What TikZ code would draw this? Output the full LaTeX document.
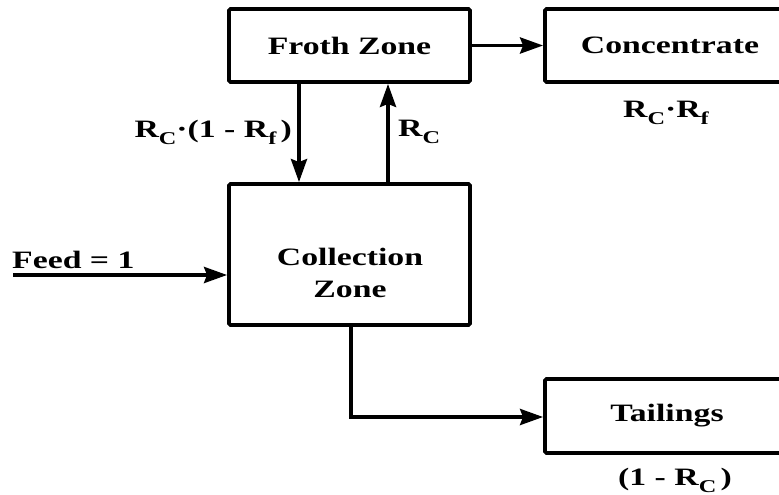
\documentclass[tikz,border=0pt]{standalone}
\usepackage{fontspec}
\setmainfont{Liberation Serif}[FakeStretch=1.35]
\usetikzlibrary{arrows.meta}
\newcommand{\lowsub}[1]{\raisebox{-7pt}{\fontsize{18}{20}\selectfont #1}}
\begin{document}
\begin{tikzpicture}[x=1pt,y=-1pt,
  box/.style={draw, line width=3.8pt, rounded corners=1.5pt, inner sep=0pt, font=\fontsize{25}{32}\selectfont\bfseries, align=center},
  txt/.style={font=\fontsize{25}{32}\selectfont\bfseries, inner sep=0pt},
  flow/.style={line width=3.8pt, -{Stealth[length=23pt,width=16pt,inset=3pt]}}]
\useasboundingbox (0,0) rectangle (779,495);
\clip (0,0) rectangle (779,495);
% boxes
\node[box, minimum width=241pt, minimum height=73pt] (froth) at (349.5,45.5) {Froth Zone};
\node[box, minimum width=250pt, minimum height=73pt] (conc) at (670,45.5) {Concentrate};
\node[box, minimum width=241pt, minimum height=141pt] (coll) at (349.5,254.5) {};
\node[box, minimum width=244pt, minimum height=74pt] (tail) at (667,416) {Tailings};
% text of collection zone
\node[txt, anchor=base] (colltxt) at (350,265) {Collection};
\node[txt, anchor=base] (colltxtb) at (350,297) {Zone};
% free ends
\coordinate (feedstart) at (13,275);
\coordinate (feedend) at (coll.west |- feedstart);
\coordinate (downtop) at (299,0 |- froth.south);
\coordinate (downbot) at (299,0 |- coll.north);
\coordinate (uptop) at (388,0 |- froth.south);
\coordinate (upbot) at (388,0 |- coll.north);
\coordinate (tailtop) at (351,0 |- coll.south);
\coordinate (tailcorner) at (351,417);
\coordinate (tailend) at (tail.west |- tailcorner);
% connectors
\draw[flow] (froth.east) -- (conc.west);
\draw[flow] (downtop) -- (downbot);
\draw[flow] (upbot) -- (uptop);
\draw[flow] (feedstart) -- (feedend);
\draw[flow] (tailtop) -- (tailcorner) -- (tailend);
% labels
\node[txt, anchor=base west] (feedlbl) at (12,268) {Feed = 1};
\node[txt, anchor=base east] (downlbl) at (292,137) {R\lowsub{C}·(1 - R\lowsub{f}\,)};
\node[txt, anchor=base west] (uplbl) at (398,136) {R\lowsub{C}};
\node[txt, anchor=base] (conclbl) at (666,117) {R\lowsub{C}·R\lowsub{f}};
\node[txt, anchor=base] (taillbl) at (675,485) {(1 - R\lowsub{C}\,)};
\end{tikzpicture}
\end{document}
